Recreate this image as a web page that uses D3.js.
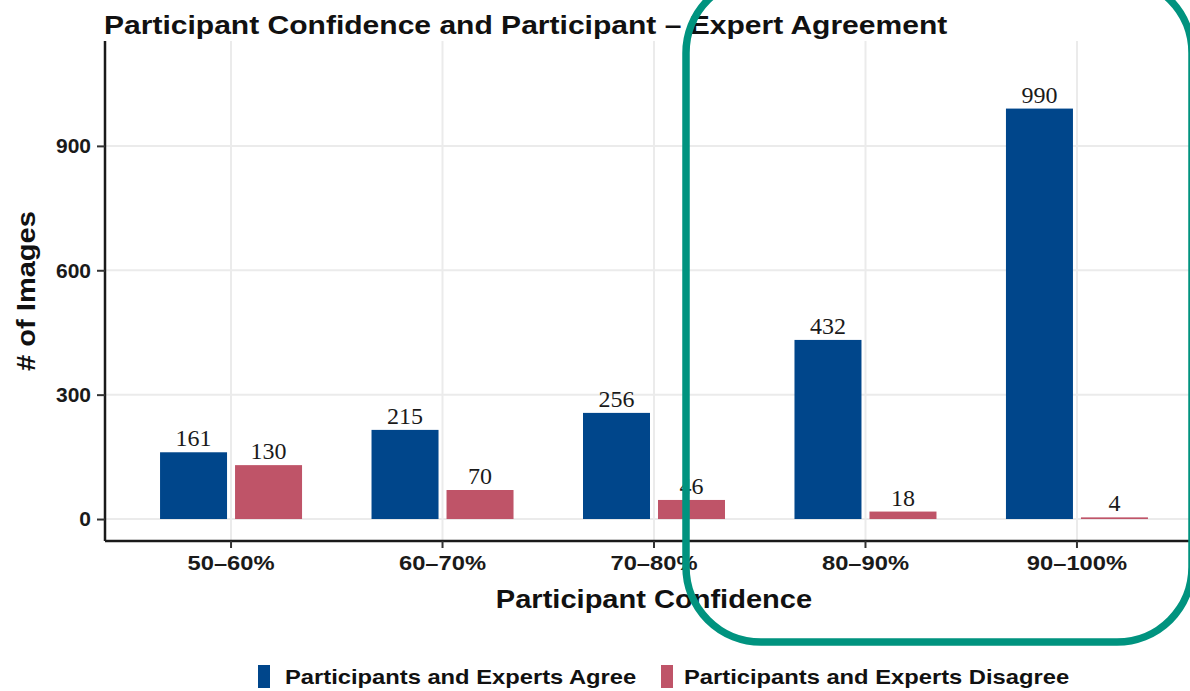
<!DOCTYPE html>
<html>
<head>
<meta charset="utf-8">
<script src="https://cdn.jsdelivr.net/npm/d3@7"></script>
<style>
  html, body { margin: 0; padding: 0; background: #fff; }
  svg { display: block; }
</style>
</head>
<body>
<svg id="chart" width="1190" height="691"></svg>
<script>
const categories = ["50–60%", "60–70%", "70–80%", "80–90%", "90–100%"];
const series = ["Participants and Experts Agree", "Participants and Experts Disagree"];
const agreeValues = [161, 215, 256, 432, 990];
const disagreeValues = [130, 70, 46, 18, 4];
const yTicks = [0, 300, 600, 900];
const colors = ["#00468B", "#BF5468"];

const svg = d3.select("#chart");
const sans = "'Liberation Sans', Arial, Helvetica, sans-serif";
const serif = "'Liberation Serif', 'Times New Roman', serif";

function stretch(sel, factor) {
  sel.each(function () {
    const w = this.getComputedTextLength();
    d3.select(this).attr("textLength", w * factor).attr("lengthAdjust", "spacingAndGlyphs");
  });
}

const plot = { left: 105, top: 41, bottom: 541, right: 1203 };

const x = d3.scaleBand().domain(categories)
  .range([plot.left, plot.right]).paddingInner(0).paddingOuter(0.096);
const xInner = d3.scaleBand().domain(series).range([-71, 71]).paddingInner(0.1067);
const y = d3.scaleLinear().domain([-53, 1153]).range([plot.bottom, plot.top]);

const data = [];
categories.forEach((c, i) => {
  data.push({ cat: c, s: series[0], v: agreeValues[i] });
  data.push({ cat: c, s: series[1], v: disagreeValues[i] });
});

// gridlines
const grid = svg.append("g");
grid.selectAll("line.h").data(yTicks).join("line")
  .attr("x1", plot.left).attr("x2", 1190)
  .attr("y1", d => y(d)).attr("y2", d => y(d))
  .attr("stroke", "#EBEBEB").attr("stroke-width", 2);
grid.selectAll("line.v").data(categories).join("line")
  .attr("x1", d => x(d) + x.bandwidth() / 2).attr("x2", d => x(d) + x.bandwidth() / 2)
  .attr("y1", plot.top).attr("y2", plot.bottom)
  .attr("stroke", "#EBEBEB").attr("stroke-width", 2);

// bars
svg.append("g").selectAll("rect").data(data).join("rect")
  .attr("x", d => x(d.cat) + x.bandwidth() / 2 + xInner(d.s))
  .attr("width", xInner.bandwidth())
  .attr("y", d => y(d.v))
  .attr("height", d => y(0) - y(d.v))
  .attr("fill", d => colors[series.indexOf(d.s)]);

// value labels
svg.append("g").selectAll("text").data(data).join("text")
  .attr("x", d => x(d.cat) + x.bandwidth() / 2 + xInner(d.s) + xInner.bandwidth() / 2)
  .attr("y", d => y(d.v) - 6)
  .attr("text-anchor", "middle")
  .attr("font-family", serif).attr("font-size", 24).attr("fill", "#1a1a1a")
  .text(d => d.v);

// axes
const yAxis = svg.append("g").attr("transform", `translate(${plot.left},0)`)
  .call(d3.axisLeft(y).tickValues(yTicks).tickSize(8).tickPadding(6));
const xAxis = svg.append("g").attr("transform", `translate(0,${plot.bottom})`)
  .call(d3.axisBottom(x).tickSize(7).tickPadding(7));
[yAxis, xAxis].forEach(g => {
  g.select(".domain").attr("stroke", "#1a1a1a").attr("stroke-width", 2.5);
  g.selectAll(".tick line").attr("stroke", "#333").attr("stroke-width", 2);
  g.selectAll(".tick text").attr("font-family", sans).attr("font-weight", "bold")
    .attr("font-size", 21).attr("fill", "#1a1a1a");
});
yAxis.select(".domain").attr("d", `M0,${plot.top}V${plot.bottom}`);
xAxis.select(".domain").attr("d", `M${plot.left},0H1190`);
stretch(xAxis.selectAll(".tick text"), 1.13);

// titles
const title = svg.append("text").attr("x", 104).attr("y", 34)
  .attr("font-family", sans).attr("font-weight", "bold").attr("font-size", 26)
  .attr("fill", "#111").text("Participant Confidence and Participant – Expert Agreement");
stretch(title, 1.155);
const xTitle = svg.append("text").attr("x", 654).attr("y", 608).attr("text-anchor", "middle")
  .attr("font-family", sans).attr("font-weight", "bold").attr("font-size", 26)
  .attr("fill", "#111").text("Participant Confidence");
stretch(xTitle, 1.117);
const yTitle = svg.append("text").attr("transform", `translate(35,${(plot.top + plot.bottom) / 2}) rotate(-90)`)
  .attr("text-anchor", "middle")
  .attr("font-family", sans).attr("font-weight", "bold").attr("font-size", 26)
  .attr("fill", "#111").text("# of Images");
stretch(yTitle, 1.117);

// legend
const legend = svg.append("g");
const legendItems = [{ s: series[0], kx: 258, tx: 285 }, { s: series[1], kx: 661, tx: 684 }];
legendItems.forEach((it, i) => {
  legend.append("rect").attr("x", it.kx).attr("y", 665).attr("width", 12).attr("height", 23)
    .attr("fill", colors[i]);
  const t = legend.append("text").attr("x", it.tx).attr("y", 684)
    .attr("font-family", sans).attr("font-weight", "bold").attr("font-size", 21)
    .attr("fill", "#111").text(it.s);
  stretch(t, 1.13);
});

// highlight box
svg.append("rect").attr("x", 686).attr("y", -22).attr("width", 506).attr("height", 664)
  .attr("rx", 75).attr("ry", 75)
  .attr("fill", "none").attr("stroke", "#00937F").attr("stroke-width", 7.5);
</script>
</body>
</html>
